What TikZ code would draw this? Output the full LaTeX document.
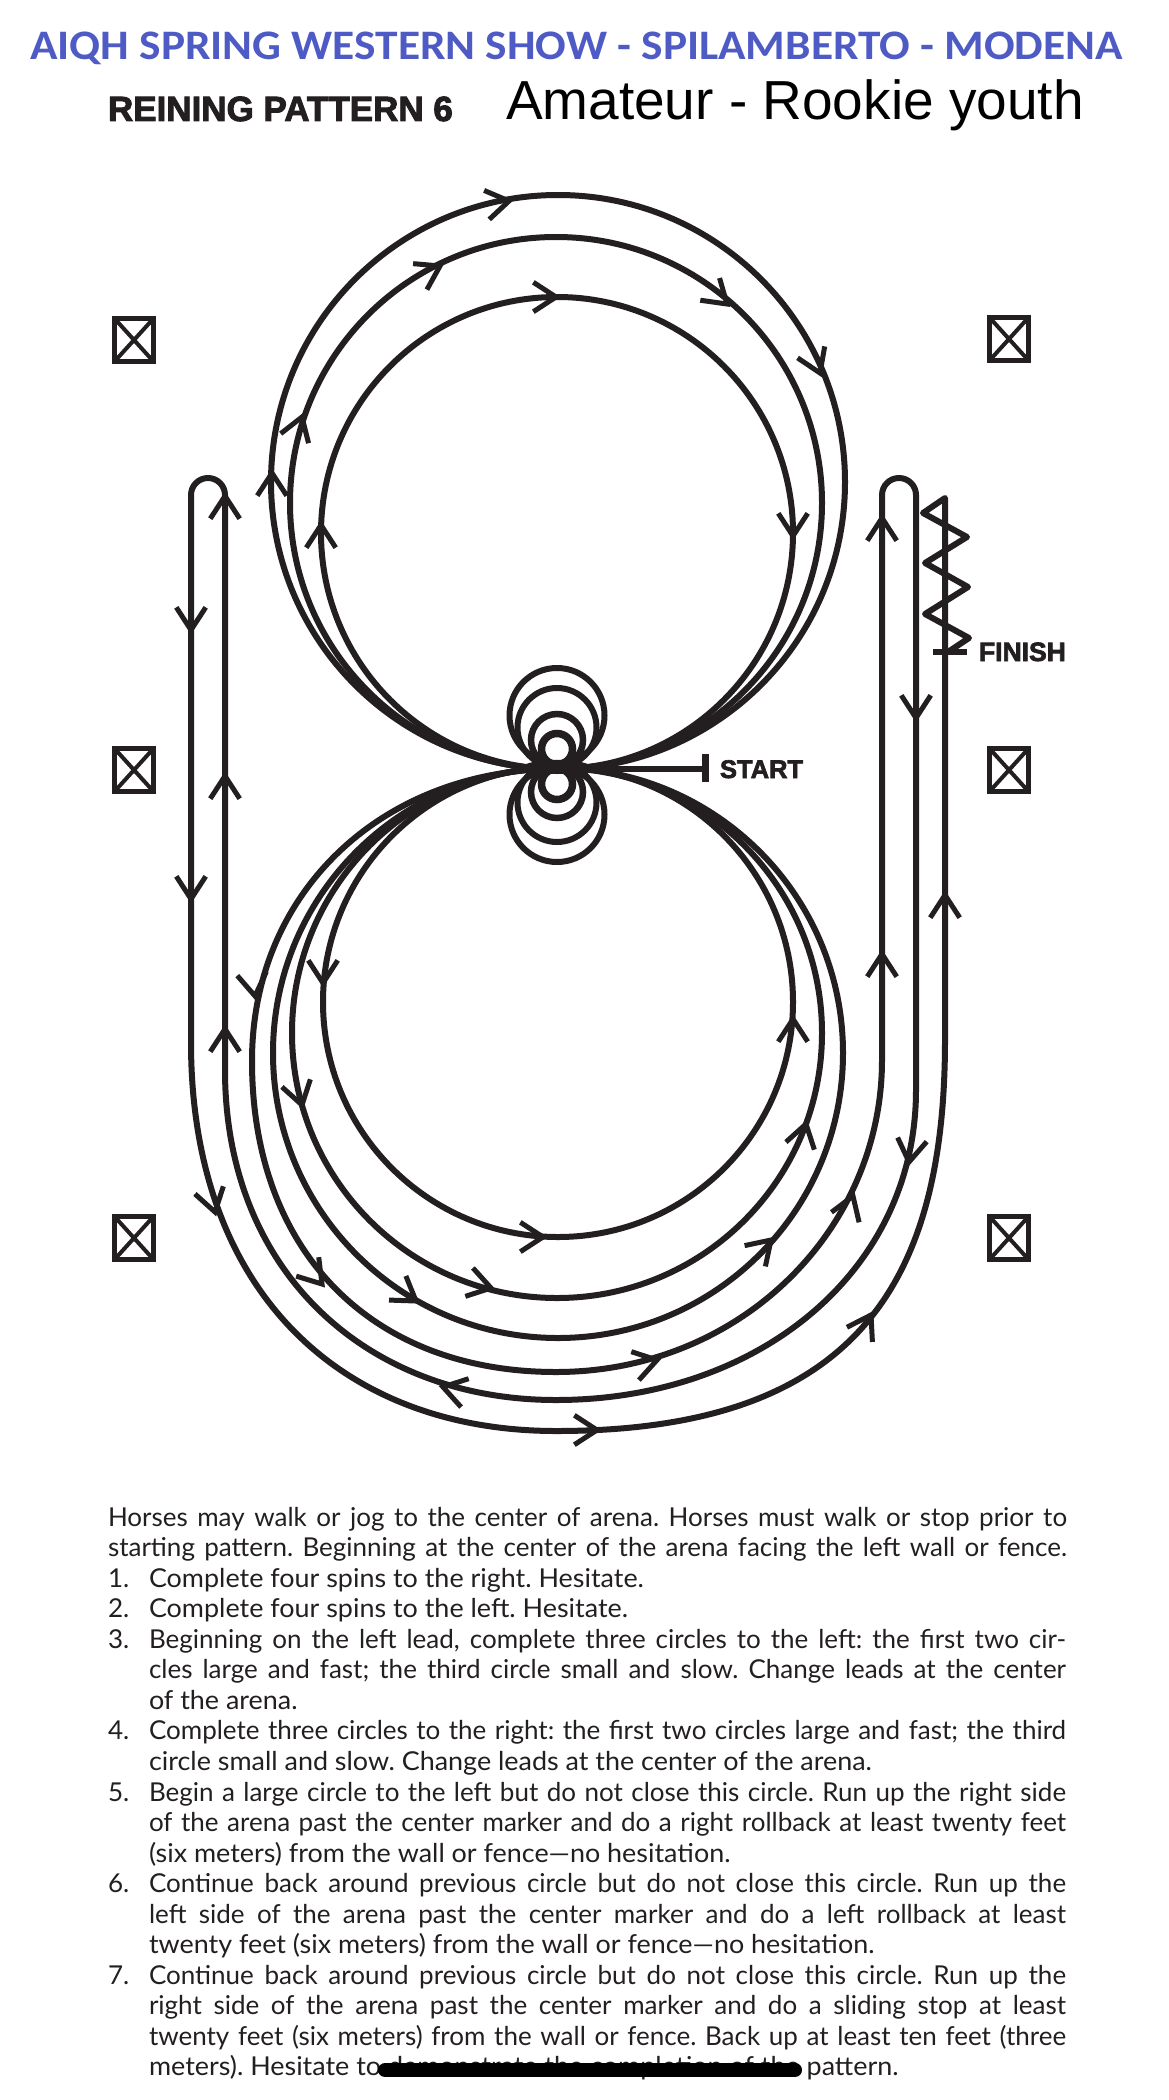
\documentclass[tikz,border=0pt]{standalone}
\usepackage{fontspec}
\setmainfont{Lato}
\newfontfamily\titlef{Carlito}
\newfontfamily\armf{Liberation Sans}
\newfontfamily\heavyf{Liberation Sans}[BoldFeatures={FakeBold=2.6}]
\definecolor{ink}{HTML}{231F20}
\definecolor{titleblue}{HTML}{4F5BC4}
\tikzset{
  route/.style={draw=ink,line width=6pt,line join=round},
  spin/.style={draw=ink,line width=6pt},
  arrowline/.style={draw=ink,line width=5pt,line join=miter},
  markerbox/.style={draw=ink,line width=5pt},
  txt/.style={anchor=base west,inner sep=0pt,outer sep=0pt,text=ink,font=\fontsize{26}{30}\selectfont},
  lbl/.style={anchor=base west,inner sep=0pt,outer sep=0pt,text=ink}
}
\newcommand\arw[3]{\draw[arrowline] (#1,#2) ++(#3+147:27pt) -- (#1,#2) -- ++(#3-147:27pt);}
\newcommand\mrk[2]{\draw[markerbox] (#1,#2) rectangle ++(39,43);
  \draw[draw=ink,line width=4pt] (#1,#2) -- ++(39,43) ++(-39,0) -- ++(39,-43);}
\newcommand\fl[1]{\makebox[917pt][s]{#1}}
\newcommand\fll[1]{\makebox[959pt][s]{#1}}
\newcommand\nl[1]{\scalebox{1.035}[1]{#1}}
\frenchspacing
\begin{document}
\begin{tikzpicture}[x=1pt,y=-1pt]
\useasboundingbox[fill=white] (0,0) rectangle (1169,2100);
% headings
\node[lbl,text=titleblue,font=\titlef\bfseries\fontsize{42}{46}\selectfont] (title) at (30,60) {\scalebox{1.08}[1]{AIQH SPRING WESTERN SHOW - SPILAMBERTO - MODENA}};
\node[lbl,font=\heavyf\bfseries\fontsize{35}{40}\selectfont] (pat) at (108,121) {REINING PATTERN 6};
\node[lbl,text=black,font=\armf\fontsize{55}{60}\selectfont] (cls) at (506,120) {Amateur - Rookie youth};
% markers
\mrk{114.5}{318.5}\mrk{989.5}{317.5}
\mrk{114.5}{748.5}\mrk{989.5}{748.5}
\mrk{114.5}{1216.5}\mrk{989.5}{1216.5}
% centre
\coordinate (ctr) at (557,769);
\coordinate (startend) at (705,769);
% upper circles
\draw[route] (557,533) circle[radius=236];
\draw[route] (556,503) circle[radius=266];
\draw[route] (558,482) circle[radius=287];
% lower circles
\draw[route] (558,1002) circle[radius=235];
\draw[route] (557,1033) circle[radius=265];
\draw[route] (558,1053) circle[radius=285];
% spins
\draw[spin] (557,715.5) circle[radius=47.5];
\draw[spin] (557,727.5) circle[radius=39.5];
\draw[spin,line width=6.5pt] (557,740) circle[radius=26];
\draw[spin,line width=7.5pt] (557,749) circle[radius=15.5];
\draw[spin] (557,814.5) circle[radius=47.5];
\draw[spin] (557,802.5) circle[radius=39.5];
\draw[spin,line width=6.5pt] (557,792) circle[radius=26];
\draw[spin,line width=7.5pt] (557,784) circle[radius=15.5];
\fill[ink] (557,767) ellipse[x radius=34,y radius=7];
% start
\draw[draw=ink,line width=6pt] (ctr) -- (startend);
\draw[draw=ink,line width=7pt] (705,754) -- (705,782);
\node[lbl,font=\heavyf\bfseries\fontsize{25.5}{28}\selectfont] (start) at (720,778) {START};
% run-down path
\draw[route] (ctr) .. controls (385,769) and (252,890) .. (252,1061)
  .. controls (252,1250) and (370,1372) .. (556,1372)
  .. controls (740,1372) and (882,1230) .. (882,1060)
  -- (882,495) arc[start angle=180,delta angle=180,radius=17]
  -- (916,1090)
  .. controls (916,1270) and (760,1400) .. (556,1400)
  .. controls (365,1400) and (225,1270) .. (225,1070)
  -- (225,495) arc[start angle=0,delta angle=-180,radius=17]
  -- (191,1040)
  .. controls (190,1290) and (340,1431) .. (556,1431)
  .. controls (850,1431) and (945,1290) .. (945,1040)
  -- (945,498)
  -- (923,513) -- (967,537) -- (925,563) -- (968,587) -- (925,614) -- (969,638) -- (948,652);
% finish
\draw[draw=ink,line width=6pt] (933,652) -- (967,652);
\node[lbl,font=\heavyf\bfseries\fontsize{26.5}{28}\selectfont] (finish) at (979,661) {FINISH};
% arrowheads
\arw{509}{201}{10}\arw{440}{266}{28}\arw{556}{297}{0}\arw{727}{304}{-41}\arw{820}{373}{-67}
\arw{793}{536}{-90}\arw{321}{525}{90}\arw{302}{417}{71}\arw{272}{473}{90}
\arw{225}{496}{90}\arw{191}{630}{-90}\arw{191}{899}{-90}\arw{225}{776}{90}\arw{225}{1029}{90}
\arw{882}{518}{90}\arw{916}{718}{-90}\arw{882}{954}{90}\arw{945}{895}{90}\arw{909}{1162}{-98}
\arw{853}{1196}{70}\arw{871}{1315}{60}\arw{771}{1240}{45}\arw{806}{1124}{75}\arw{793}{1019}{90}
\arw{543}{1237}{0}\arw{491}{1288}{-15}\arw{416}{1301}{-35}\arw{322}{1284}{-50}\arw{657}{1360}{15}
\arw{443}{1387}{165}\arw{597}{1430}{0}\arw{215}{1212}{-75}\arw{255}{996}{-82}\arw{323}{983}{-90}\arw{302}{1105}{-75}
% text
\node[txt] (t01) at (108,1526) {\fll{Horses may walk or jog to the center of arena. Horses must walk or stop prior to}};
\node[txt] (t02) at (108,1556.5) {\fll{starting pattern. Beginning at the center of the arena facing the left wall or fence.}};
\node[txt] (n1) at (108,1587) {1.};
\node[txt] (t03) at (149,1587) {\nl{Complete four spins to the right. Hesitate.}};
\node[txt] (n2) at (108,1617.6) {2.};
\node[txt] (t04) at (149,1617.6) {\nl{Complete four spins to the left. Hesitate.}};
\node[txt] (n3) at (108,1648.2) {3.};
\node[txt] (t05) at (149,1648.2) {\fl{Beginning on the left lead, complete three circles to the left: the first two cir-}};
\node[txt] (t06) at (149,1678.8) {\fl{cles large and fast; the third circle small and slow. Change leads at the center}};
\node[txt] (t07) at (149,1709.3) {\nl{of the arena.}};
\node[txt] (n4) at (108,1739.9) {4.};
\node[txt] (t08) at (149,1739.9) {\fl{Complete three circles to the right: the first two circles large and fast; the third}};
\node[txt] (t09) at (149,1770.4) {\nl{circle small and slow. Change leads at the center of the arena.}};
\node[txt] (n5) at (108,1801) {5.};
\node[txt] (t10) at (149,1801) {\fl{Begin a large circle to the left but do not close this circle. Run up the right side}};
\node[txt] (t11) at (149,1831.5) {\fl{of the arena past the center marker and do a right rollback at least twenty feet}};
\node[txt] (t12) at (149,1862) {\nl{(six meters) from the wall or fence—no hesitation.}};
\node[txt] (n6) at (108,1892.6) {6.};
\node[txt] (t13) at (149,1892.6) {\fl{Continue back around previous circle but do not close this circle. Run up the}};
\node[txt] (t14) at (149,1923.1) {\fl{left side of the arena past the center marker and do a left rollback at least}};
\node[txt] (t15) at (149,1953.7) {\nl{twenty feet (six meters) from the wall or fence—no hesitation.}};
\node[txt] (n7) at (108,1984.2) {7.};
\node[txt] (t16) at (149,1984.2) {\fl{Continue back around previous circle but do not close this circle. Run up the}};
\node[txt] (t17) at (149,2014.8) {\fl{right side of the arena past the center marker and do a sliding stop at least}};
\node[txt] (t18) at (149,2045.3) {\fl{twenty feet (six meters) from the wall or fence. Back up at least ten feet (three}};
\node[txt] (t19) at (149,2075.9) {\nl{meters). Hesitate to demonstrate the completion of the pattern.}};
\draw[draw=black,line width=14pt,line cap=round] (385,2070) -- (795,2070);
\end{tikzpicture}
\end{document}
